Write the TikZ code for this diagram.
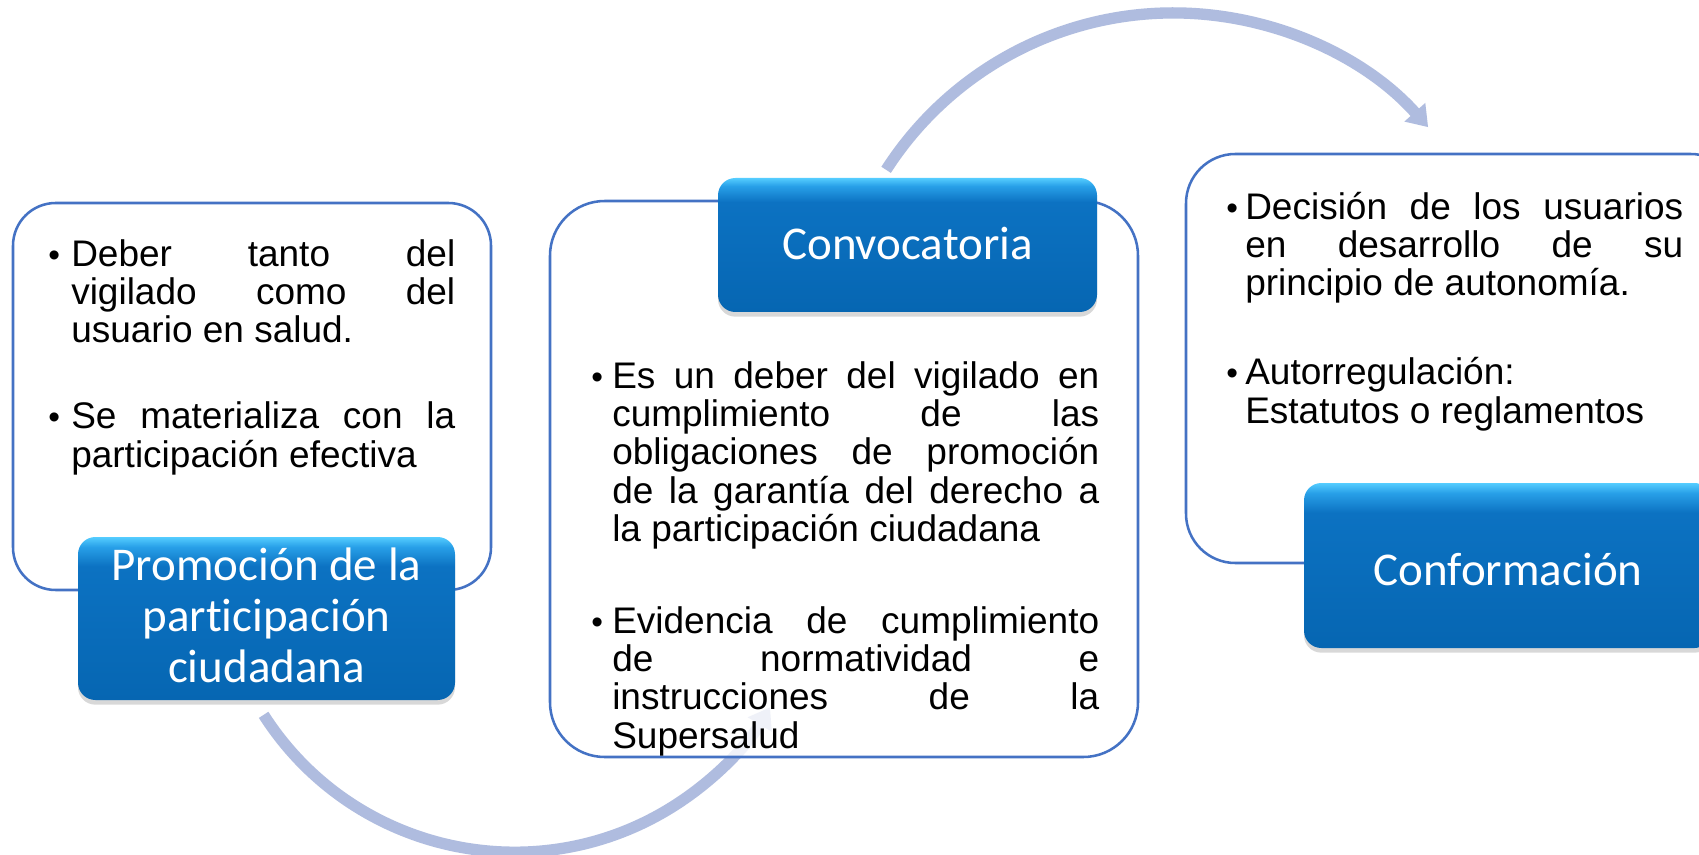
\documentclass[tikz,border=0pt]{standalone}
\usepackage{fontspec}
\setmainfont{Liberation Sans}
\newfontfamily\calib{Carlito}[Ligatures=NoCommon]
\usetikzlibrary{arrows.meta,shadows}

\definecolor{bord}{RGB}{68,114,196}
\definecolor{arcc}{RGB}{175,188,223}
\definecolor{bxbot}{RGB}{6,102,178}
\definecolor{bxmid}{RGB}{12,114,194}
\definecolor{bxlt}{RGB}{40,160,232}
\definecolor{bxtop}{RGB}{85,205,255}
\pgfdeclareverticalshading{bluebox}{100bp}{color(0bp)=(bxbot); color(25bp)=(bxbot); color(66bp)=(bxmid); color(72bp)=(bxlt); color(75bp)=(bxtop); color(100bp)=(bxtop)}

\newcommand{\jL}[1]{\makebox[288pt][s]{#1}}
\newcommand{\jM}[1]{\makebox[365.25pt][s]{#1}}
\newcommand{\jR}[1]{\makebox[328.5pt][s]{#1}}

\tikzset{
  wbox/.style={draw=bord, line width=1.9pt, fill=white},
  bbox/.style={shade, shading=bluebox, drop shadow={opacity=0.3, shadow xshift=0pt, shadow yshift=-3.5pt}},
  arcline/.style={draw=arcc, line width=8.5pt, -{Triangle[width=20pt,length=15pt]}},
  body/.style={inner sep=0pt, anchor=base west, font=\fontsize{27.75pt}{28.7pt}\selectfont},
  bul/.style={inner sep=0pt, anchor=base west, font=\fontsize{25pt}{28.7pt}\selectfont},
  btitle/.style={inner sep=0pt, anchor=base, text=white, font=\calib\fontsize{35.25pt}{38pt}\selectfont},
}

\begin{document}
\begin{tikzpicture}[x=0.75pt,y=0.75pt]
\useasboundingbox (0,0) rectangle (1699,-855);
\clip (0,0) rectangle (1699,-855);
\fill[white] (0,0) rectangle (1699,-855);

% arc centres and end points
\coordinate (bc) at (514.5,-554.4);
\coordinate (tc) at (1173.3,-354.2);
\coordinate (a1s) at ([shift={(212.6:297.8)}]bc);
\coordinate (a2s) at ([shift={(147.3:341.3)}]tc);

% connectors
\draw[arcline] (a1s) arc[start angle=212.6, end angle=329.1, radius=297.8];
\draw[arcline] (a2s) arc[start angle=147.3, end angle=41.7, radius=341.3];

% left group
\draw[wbox, rounded corners=32pt] (13,-203) rectangle (491,-590);
\path[bbox, rounded corners=13pt] (78,-537) rectangle (455,-700);

% middle group
\draw[wbox, fill opacity=0.8, rounded corners=41pt] (550,-201) rectangle (1138,-757);
\path[bbox, rounded corners=13pt] (718,-178) rectangle (1097,-312);

% right group
\draw[wbox, rounded corners=37pt] (1186,-154) rectangle (1740,-563);
\path[bbox, rounded corners=13pt] (1304,-483) rectangle (1712,-648);

% titles
\node[btitle] (p1) at (266.5,-580) {Promoción de la};
\node[btitle] (p2) at (266.5,-631) {participación};
\node[btitle] (p3) at (266.5,-682) {ciudadana};
\node[btitle] (cv) at (907.5,-260) {Convocatoria};
\node[btitle] (cf) at (1508,-585) {Conformación};

% left text
\node[bul] (lb1) at (48,-267) {•};
\node[body] (l1) at (71,-267) {\jL{Deber tanto del}};
\node[body] (l2) at (71,-305) {\jL{vigilado como del}};
\node[body] (l3) at (71,-343) {usuario en salud.};
\node[bul] (lb2) at (48,-429) {•};
\node[body] (l4) at (71,-429) {\jL{Se materializa con la}};
\node[body] (l5) at (71,-467) {participación efectiva};

% middle text
\node[bul] (mb1) at (591,-388) {•};
\node[body] (m1) at (612,-388) {\jM{Es un deber del vigilado en}};
\node[body] (m2) at (612,-426.4) {\jM{cumplimiento de las}};
\node[body] (m3) at (612,-464.7) {\jM{obligaciones de promoción}};
\node[body] (m4) at (612,-503) {\jM{de la garantía del derecho a}};
\node[body] (m5) at (612,-541.3) {la participación ciudadana};
\node[bul] (mb2) at (591,-633) {•};
\node[body] (m6) at (612,-633) {\jM{Evidencia de cumplimiento}};
\node[body] (m7) at (612,-671.3) {\jM{de normatividad e}};
\node[body] (m8) at (612,-709.6) {\jM{instrucciones de la}};
\node[body] (m9) at (612,-748) {Supersalud};

% right text
\node[bul] (rb1) at (1226,-220) {•};
\node[body] (r1) at (1245,-220) {\jR{Decisión de los usuarios}};
\node[body] (r2) at (1245,-258) {\jR{en desarrollo de su}};
\node[body] (r3) at (1245,-296) {principio de autonomía.};
\node[bul] (rb2) at (1226,-385) {•};
\node[body] (r4) at (1245,-385) {Autorregulación:};
\node[body] (r5) at (1245,-423) {Estatutos o reglamentos};
\end{tikzpicture}
\end{document}
